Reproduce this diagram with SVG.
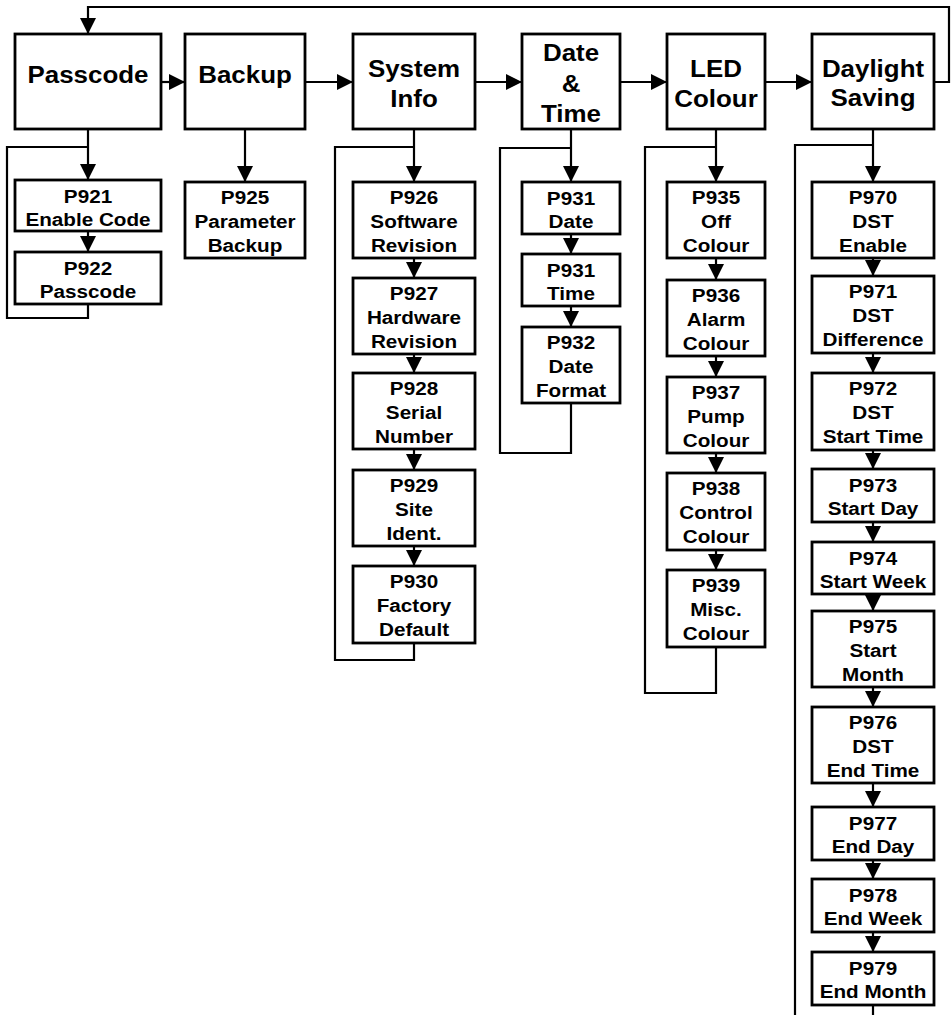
<svg xmlns="http://www.w3.org/2000/svg" width="952" height="1015" viewBox="0 0 952 1015">
<defs>
<style>
rect{fill:#fff;stroke:#000;stroke-width:2.8}
text{font-family:"Liberation Sans",Arial,sans-serif;font-weight:bold;fill:#000;text-anchor:middle}
.h{font-size:24px}
.c{font-size:18.8px}
.ln{fill:none;stroke:#000;stroke-width:2.2}
.ar{fill:none;stroke:#000;stroke-width:2.2;marker-end:url(#ah)}
</style>
<marker id="ah" markerUnits="userSpaceOnUse" markerWidth="16" markerHeight="16" refX="16" refY="8" orient="auto" viewBox="0 0 16 16">
<path d="M0,0 L16,8 L0,16 z" fill="#000"/>
</marker>
</defs>
<g id="connectors">
<path class="ar" d="M934,82 H949 V7 H88 V34"/>
<path class="ar" d="M161,82 H185"/>
<path class="ar" d="M305,82 H353"/>
<path class="ar" d="M475,82 H522"/>
<path class="ar" d="M620,82 H667"/>
<path class="ar" d="M765,82 H812"/>
<path class="ar" d="M88,129 V180"/>
<path class="ar" d="M88,231 V252"/>
<path class="ln" d="M88,304 V318 H7 V147 H88"/>
<path class="ar" d="M245,129 V182"/>
<path class="ar" d="M414,129 V182"/>
<path class="ar" d="M414,258 V278"/>
<path class="ar" d="M414,354 V373"/>
<path class="ar" d="M414,449 V470"/>
<path class="ar" d="M414,546 V566"/>
<path class="ln" d="M414,643 V660 H335 V147 H414"/>
<path class="ar" d="M571,129 V182"/>
<path class="ar" d="M571,234 V254"/>
<path class="ar" d="M571,306 V327"/>
<path class="ln" d="M571,403 V453 H500 V148 H571"/>
<path class="ar" d="M716,129 V182"/>
<path class="ar" d="M716,258 V280"/>
<path class="ar" d="M716,356 V377"/>
<path class="ar" d="M716,453 V473"/>
<path class="ar" d="M716,550 V570"/>
<path class="ln" d="M716,647 V693 H645 V147 H716"/>
<path class="ar" d="M873,129 V182"/>
<path class="ar" d="M873,258 V276"/>
<path class="ar" d="M873,353 V373"/>
<path class="ar" d="M873,450 V469"/>
<path class="ar" d="M873,522 V542"/>
<path class="ar" d="M873,594 V611"/>
<path class="ar" d="M873,687 V707"/>
<path class="ar" d="M873,783 V807"/>
<path class="ar" d="M873,860 V879"/>
<path class="ar" d="M873,932 V952"/>
<path class="ln" d="M873,1005 V1020"/>
<path class="ln" d="M795,1020 V145 H873"/>
</g>
<g id="passcode"><rect x="15" y="34" width="146" height="95"/><text class="h" transform="translate(88 0) scale(1.08 1)"><tspan x="0" y="83">Passcode</tspan></text></g>
<g id="backup"><rect x="185" y="34" width="120" height="95"/><text class="h" transform="translate(245 0) scale(1.08 1)"><tspan x="0" y="83">Backup</tspan></text></g>
<g id="sysinfo"><rect x="353" y="34" width="122" height="95"/><text class="h" transform="translate(414 0) scale(1.08 1)"><tspan x="0" y="77">System</tspan><tspan x="0" y="107">Info</tspan></text></g>
<g id="datetime"><rect x="522" y="34" width="98" height="95"/><text class="h" transform="translate(571 0) scale(1.08 1)"><tspan x="0" y="61">Date</tspan><tspan x="0" y="92">&amp;</tspan><tspan x="0" y="122">Time</tspan></text></g>
<g id="led"><rect x="667" y="34" width="98" height="95"/><text class="h" transform="translate(716 0) scale(1.08 1)"><tspan x="0" y="77">LED</tspan><tspan x="0" y="107">Colour</tspan></text></g>
<g id="dst"><rect x="812" y="34" width="122" height="95"/><text class="h" transform="translate(873 0) scale(1.08 1)"><tspan x="0" y="77">Daylight</tspan><tspan x="0" y="106">Saving</tspan></text></g>

<g id="p921"><rect x="15" y="180" width="146" height="51"/><text class="c" transform="translate(88 0) scale(1.1 1)"><tspan x="0" y="203">P921</tspan><tspan x="0" y="226">Enable Code</tspan></text></g>
<g id="p922"><rect x="15" y="252" width="146" height="52"/><text class="c" transform="translate(88 0) scale(1.1 1)"><tspan x="0" y="275">P922</tspan><tspan x="0" y="298">Passcode</tspan></text></g>
<g id="p925"><rect x="185" y="182" width="120" height="76"/><text class="c" transform="translate(245 0) scale(1.1 1)"><tspan x="0" y="204">P925</tspan><tspan x="0" y="228">Parameter</tspan><tspan x="0" y="252">Backup</tspan></text></g>

<g id="p926"><rect x="353" y="182" width="122" height="76"/><text class="c" transform="translate(414 0) scale(1.1 1)"><tspan x="0" y="204">P926</tspan><tspan x="0" y="228">Software</tspan><tspan x="0" y="252">Revision</tspan></text></g>
<g id="p927"><rect x="353" y="278" width="122" height="76"/><text class="c" transform="translate(414 0) scale(1.1 1)"><tspan x="0" y="300">P927</tspan><tspan x="0" y="324">Hardware</tspan><tspan x="0" y="348">Revision</tspan></text></g>
<g id="p928"><rect x="353" y="373" width="122" height="76"/><text class="c" transform="translate(414 0) scale(1.1 1)"><tspan x="0" y="395">P928</tspan><tspan x="0" y="419">Serial</tspan><tspan x="0" y="443">Number</tspan></text></g>
<g id="p929"><rect x="353" y="470" width="122" height="76"/><text class="c" transform="translate(414 0) scale(1.1 1)"><tspan x="0" y="492">P929</tspan><tspan x="0" y="516">Site</tspan><tspan x="0" y="540">Ident.</tspan></text></g>
<g id="p930"><rect x="353" y="566" width="122" height="77"/><text class="c" transform="translate(414 0) scale(1.1 1)"><tspan x="0" y="588">P930</tspan><tspan x="0" y="612">Factory</tspan><tspan x="0" y="636">Default</tspan></text></g>

<g id="p931d"><rect x="522" y="182" width="98" height="52"/><text class="c" transform="translate(571 0) scale(1.1 1)"><tspan x="0" y="205">P931</tspan><tspan x="0" y="228">Date</tspan></text></g>
<g id="p931t"><rect x="522" y="254" width="98" height="52"/><text class="c" transform="translate(571 0) scale(1.1 1)"><tspan x="0" y="277">P931</tspan><tspan x="0" y="300">Time</tspan></text></g>
<g id="p932"><rect x="522" y="327" width="98" height="76"/><text class="c" transform="translate(571 0) scale(1.1 1)"><tspan x="0" y="349">P932</tspan><tspan x="0" y="373">Date</tspan><tspan x="0" y="397">Format</tspan></text></g>

<g id="p935"><rect x="667" y="182" width="98" height="76"/><text class="c" transform="translate(716 0) scale(1.1 1)"><tspan x="0" y="204">P935</tspan><tspan x="0" y="228">Off</tspan><tspan x="0" y="252">Colour</tspan></text></g>
<g id="p936"><rect x="667" y="280" width="98" height="76"/><text class="c" transform="translate(716 0) scale(1.1 1)"><tspan x="0" y="302">P936</tspan><tspan x="0" y="326">Alarm</tspan><tspan x="0" y="350">Colour</tspan></text></g>
<g id="p937"><rect x="667" y="377" width="98" height="76"/><text class="c" transform="translate(716 0) scale(1.1 1)"><tspan x="0" y="399">P937</tspan><tspan x="0" y="423">Pump</tspan><tspan x="0" y="447">Colour</tspan></text></g>
<g id="p938"><rect x="667" y="473" width="98" height="77"/><text class="c" transform="translate(716 0) scale(1.1 1)"><tspan x="0" y="495">P938</tspan><tspan x="0" y="519">Control</tspan><tspan x="0" y="543">Colour</tspan></text></g>
<g id="p939"><rect x="667" y="570" width="98" height="77"/><text class="c" transform="translate(716 0) scale(1.1 1)"><tspan x="0" y="592">P939</tspan><tspan x="0" y="616">Misc.</tspan><tspan x="0" y="640">Colour</tspan></text></g>

<g id="p970"><rect x="812" y="182" width="122" height="76"/><text class="c" transform="translate(873 0) scale(1.1 1)"><tspan x="0" y="204">P970</tspan><tspan x="0" y="228">DST</tspan><tspan x="0" y="252">Enable</tspan></text></g>
<g id="p971"><rect x="812" y="276" width="122" height="77"/><text class="c" transform="translate(873 0) scale(1.1 1)"><tspan x="0" y="298">P971</tspan><tspan x="0" y="322">DST</tspan><tspan x="0" y="346">Difference</tspan></text></g>
<g id="p972"><rect x="812" y="373" width="122" height="77"/><text class="c" transform="translate(873 0) scale(1.1 1)"><tspan x="0" y="395">P972</tspan><tspan x="0" y="419">DST</tspan><tspan x="0" y="443">Start Time</tspan></text></g>
<g id="p973"><rect x="812" y="469" width="122" height="53"/><text class="c" transform="translate(873 0) scale(1.1 1)"><tspan x="0" y="492">P973</tspan><tspan x="0" y="515">Start Day</tspan></text></g>
<g id="p974"><rect x="812" y="542" width="122" height="52"/><text class="c" transform="translate(873 0) scale(1.1 1)"><tspan x="0" y="565">P974</tspan><tspan x="0" y="588">Start Week</tspan></text></g>
<g id="p975"><rect x="812" y="611" width="122" height="76"/><text class="c" transform="translate(873 0) scale(1.1 1)"><tspan x="0" y="633">P975</tspan><tspan x="0" y="657">Start</tspan><tspan x="0" y="681">Month</tspan></text></g>
<g id="p976"><rect x="812" y="707" width="122" height="76"/><text class="c" transform="translate(873 0) scale(1.1 1)"><tspan x="0" y="729">P976</tspan><tspan x="0" y="753">DST</tspan><tspan x="0" y="777">End Time</tspan></text></g>
<g id="p977"><rect x="812" y="807" width="122" height="53"/><text class="c" transform="translate(873 0) scale(1.1 1)"><tspan x="0" y="830">P977</tspan><tspan x="0" y="853">End Day</tspan></text></g>
<g id="p978"><rect x="812" y="879" width="122" height="53"/><text class="c" transform="translate(873 0) scale(1.1 1)"><tspan x="0" y="902">P978</tspan><tspan x="0" y="925">End Week</tspan></text></g>
<g id="p979"><rect x="812" y="952" width="122" height="53"/><text class="c" transform="translate(873 0) scale(1.1 1)"><tspan x="0" y="975">P979</tspan><tspan x="0" y="998">End Month</tspan></text></g>
</svg>
